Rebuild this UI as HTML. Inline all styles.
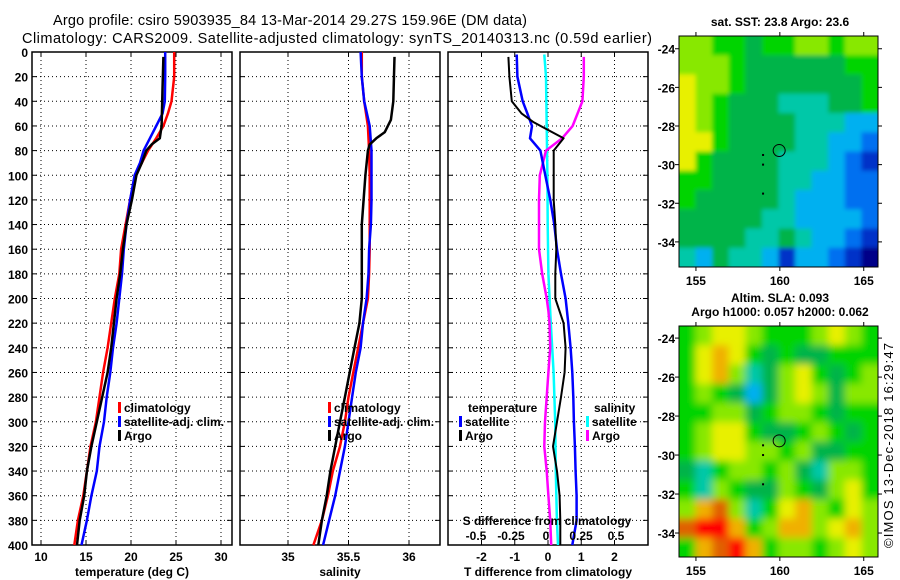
<!DOCTYPE html>
<html><head><meta charset="utf-8"><style>
body{margin:0;background:#fff}
svg{display:block;font-family:"Liberation Sans",sans-serif}
.t{font-size:12px;font-weight:bold}
</style></head><body>
<svg id="c" width="900" height="580" xmlns="http://www.w3.org/2000/svg">
<defs>
<filter id="blurS" x="-10%" y="-10%" width="120%" height="120%"><feGaussianBlur stdDeviation="2"/></filter>
<filter id="blurL" x="-10%" y="-10%" width="120%" height="120%"><feGaussianBlur stdDeviation="4"/></filter>
<clipPath id="clipS"><rect x="679" y="36" width="199" height="231"/></clipPath>
<clipPath id="clipL"><rect x="679" y="326" width="199" height="231"/></clipPath>
</defs>
<rect width="900" height="580" fill="#fff"/>
<text x="290" y="25" font-size="14.5" text-anchor="middle" textLength="474">Argo profile: csiro 5903935_84 13-Mar-2014 29.27S 159.96E (DM data)</text>
<text x="337" y="43" font-size="14.5" text-anchor="middle" textLength="630">Climatology: CARS2009. Satellite-adjusted climatology: synTS_20140313.nc (0.59d earlier)</text>
<text x="780" y="26" class="t" text-anchor="middle">sat. SST: 23.8 Argo: 23.6</text>
<text x="780" y="302" class="t" text-anchor="middle">Altim. SLA: 0.093</text>
<text x="780" y="316" class="t" text-anchor="middle">Argo h1000: 0.057 h2000: 0.062</text>
<text transform="translate(893,548) rotate(-90)" font-size="13" textLength="205">©IMOS 13-Dec-2018 16:29:47</text>
<g id="g"></g>
</svg>
<script>
// ---- data ----
const depthTicks=[0,20,40,60,80,100,120,140,160,180,200,220,240,260,280,300,320,340,360,380,400];
const tTicks=[10,15,20,25,30];
const sTicks=[35,35.5,36];
const dtTicks=[-2,-1,0,1,2];
const dsTicks=[-0.5,-0.25,0,0.25,0.5];
const dsTickLabels=["-0.5","-0.25","0","0.25","0.5"];
const tDepth=[0,20,40,50,60,70,80,90,100,120,140,160,180,200,220,240,260,280,300,320,340,360,380,400];
const tClim=[24.8,24.8,24.5,24.1,23.6,22.8,21.9,21.2,20.5,19.9,19.4,18.9,18.7,18.2,17.8,17.4,16.9,16.5,16.1,15.5,15.1,14.7,14.1,13.7];
const tSat=[23.8,23.8,23.75,23.5,22.8,22.1,21.4,21.0,20.4,19.9,19.5,19.2,19.0,18.7,18.4,18.0,17.7,17.3,17.0,16.5,16.2,15.6,15.1,14.5];
const tArgoDepth=[4,30,60,70,75,80,90,100,120,140,160,180,200,220,240,260,280,300,320,340,360,380,400];
const tArgo=[23.6,23.5,23.4,23.2,22.3,21.7,21.2,20.6,20.1,19.5,19.1,18.8,18.4,18.1,17.8,17.4,16.8,16.2,15.6,15.1,14.8,14.3,14.0];
const sDepth=[0,20,40,60,80,100,120,140,160,180,200,220,240,260,280,300,320,340,360,380,400];
const sClim=[35.61,35.61,35.63,35.66,35.67,35.675,35.675,35.675,35.675,35.67,35.66,35.62,35.58,35.54,35.50,35.47,35.43,35.37,35.33,35.28,35.21];
const sSat=[35.60,35.61,35.63,35.675,35.69,35.69,35.69,35.685,35.67,35.665,35.65,35.62,35.60,35.56,35.53,35.50,35.47,35.43,35.39,35.34,35.29];
const sArgoDepth=[4,40,55,65,70,75,80,100,120,140,160,180,200,220,240,260,280,300,320,340,360,380,400];
const sArgo=[35.88,35.87,35.85,35.80,35.73,35.675,35.66,35.64,35.625,35.61,35.61,35.61,35.61,35.59,35.55,35.51,35.47,35.43,35.39,35.35,35.32,35.28,35.25];
const dtSatDepth=[2,20,40,50,60,70,80,100,120,140,160,180,200,220,240,260,280,300,320,340,360,380,400];
const dtSat=[-0.94,-0.92,-0.76,-0.62,-0.48,-0.54,-0.23,-0.08,0.07,0.19,0.27,0.39,0.53,0.61,0.68,0.73,0.76,0.78,0.81,0.83,0.86,0.86,0.73];
const dtArgoDepth=[4,20,40,50,57,70,80,100,120,140,160,180,200,220,240,260,280,300,320,340,360,380,400];
const dtArgo=[-1.19,-1.16,-1.09,-0.79,-0.43,0.47,0.17,0.17,0.17,0.22,0.25,0.22,0.22,0.47,0.53,0.50,0.39,0.27,0.15,0.27,0.35,0.37,0.37];
const dsSatDepth=[2,20,60,100,140,180,220,260,300,340,380,400];
const dsSat=[-0.012,0,0.005,0.01,0.012,0.017,0.034,0.054,0.066,0.07,0.078,0.086];
const dsArgoDepth=[4,20,40,60,70,80,100,120,160,180,200,210,220,240,260,280,300,320,340,360,380,400];
const dsArgo=[0.27,0.27,0.26,0.19,0.115,0,-0.044,-0.05,-0.05,-0.027,0.005,0.017,0.025,0.03,0.017,0.005,-0.007,-0.012,0.005,0.017,0.03,0.037];
const lonTicks=[155,160,165];
const latTicks=[-24,-26,-28,-30,-32,-34];
const sstGrid=[
[7,7,6,6,5,6,6,7,7,6,7,7],
[7,7,7,6,5,5,5,5,5,5,6,6],
[8,7,7,6,5,5,5,5,5,5,5,6],
[8,7,6,5,5,5,4,4,4,5,5,6],
[8,7,6,5,5,5,5,4,4,4,3,3],
[8,8,6,5,5,5,5,4,4,3,3,2],
[8,6,5,5,5,5,4,4,4,3,2,1],
[6,6,5,5,5,5,4,4,3,3,2,2],
[6,5,5,5,5,5,4,3,3,3,2,2],
[5,5,5,5,5,4,4,3,3,3,3,2],
[5,5,5,5,4,4,5,4,3,3,2,1],
[4,3,5,4,4,3,1,3,3,2,1,0]];
const slaGrid=[
[6,7,8,8,7,6,6,6,7,8,7,6],
[6,8,9,8,6,5,6,5,5,6,6,6],
[6,8,9,7,4,5,7,8,6,5,6,7],
[6,7,6,5,3,5,7,8,7,5,7,7],
[6,6,7,7,5,6,7,7,6,5,6,6],
[6,7,8,8,6,5,5,6,7,6,5,6],
[6,7,8,8,7,7,6,7,5,5,6,6],
[5,4,6,7,7,6,7,5,4,7,7,6],
[6,4,7,6,5,5,7,6,5,7,8,6],
[7,9,10,7,4,6,8,9,7,6,8,7],
[10,11,11,9,6,7,9,9,7,8,9,7],
[6,9,10,11,9,6,7,7,6,7,8,7]];
const argoLon=159.96, argoLat=-29.27;
const cmap=["#000088","#0030c8","#0070f0","#00b0f0","#00c8a8","#00b44a","#00d400","#88e800","#e8f000","#f0b000","#e06000","#ff0000"];

// ---- drawing ----
const G=document.getElementById('g');const NS='http://www.w3.org/2000/svg';
function mk(tag,attrs,parent){const e=document.createElementNS(NS,tag);for(const k in attrs)e.setAttribute(k,attrs[k]);(parent||G).appendChild(e);return e;}
const Y0=52,Y1=545;
const yD=d=>Y0+(d/400)*(Y1-Y0);
function lin(d0,d1,r0,r1){return v=>r0+(v-d0)*(r1-r0)/(d1-d0);}
function panel(name,x0,x1,xs,xt,xlabels,title,leftLabels){
  const g=mk('g',{});
  
  
  depthTicks.forEach((d,i)=>{
    if(i>0&&i<depthTicks.length-1){const l=mk('line',{x1:x0,x2:x1,y1:yD(d),y2:yD(d),stroke:'#000','stroke-dasharray':'1 3','stroke-width':1},g);
    
    }
    mk('line',{x1:x0,x2:x0+5,y1:yD(d),y2:yD(d),stroke:'#000'},g);
    mk('line',{x1:x1,x2:x1-5,y1:yD(d),y2:yD(d),stroke:'#000'},g);
    if(leftLabels){const t=mk('text',{x:x0-4,y:yD(d)+5,class:'t','text-anchor':'end'},g);t.textContent=d;
    
    }
  });
  xt.forEach((v,i)=>{
    const x=xs(v);
    const l=mk('line',{x1:x,x2:x,y1:Y0,y2:Y1,stroke:'#000','stroke-dasharray':'1 3'},g);
    
    
    mk('line',{x1:x,x2:x,y1:Y1,y2:Y1-5,stroke:'#000'},g);
    mk('line',{x1:x,x2:x,y1:Y0,y2:Y0+5,stroke:'#000'},g);
    const t=mk('text',{x:x,y:561,class:'t','text-anchor':'middle'},g);t.textContent=xlabels[i];
    
    
  });
  const r=mk('rect',{x:x0,y:Y0,width:x1-x0,height:Y1-Y0,fill:'none',stroke:'#000','stroke-width':1.5},g);
  
  
  const t=mk('text',{x:(x0+x1)/2,y:576,class:'t','text-anchor':'middle'},g);t.textContent=title;
  
  
  return g;
}
function series(g,name,xs,depths,vals,color,w){
  const pts=depths.map((d,i)=>xs(vals[i]).toFixed(1)+','+yD(d).toFixed(1)).join(' ');
  const p=mk('polyline',{points:pts,fill:'none',stroke:color,'stroke-width':w,'stroke-linejoin':'round'},g);
  
  
}
function legend(g,x,y,color,label,name){
  mk('rect',{x:x,y:y-10,width:3,height:11,fill:color},g);
  const t=mk('text',{x:x+6,y:y,class:'t'},g);t.textContent=label;
  
  
}
// panel 1
const xT=lin(10,30,41,221);
const p1=panel('temperature-panel',32,232,xT,tTicks,tTicks.map(String),'temperature (deg C)',true);
series(p1,'temp-climatology-line',xT,tDepth,tClim,'#f00',2.5);
series(p1,'temp-satellite-line',xT,tDepth,tSat,'#00f',2.5);
series(p1,'temp-argo-line',xT,tArgoDepth,tArgo,'#000',2.5);
legend(p1,118,412,'#f00','climatology','legend-climatology');
legend(p1,118,426,'#00f','satellite-adj. clim.','legend-satellite');
legend(p1,118,440,'#000','Argo','legend-argo');
// panel 2
const xS=lin(35,36,288,409);
const p2=panel('salinity-panel',240,440,xS,sTicks,['35','35.5','36'],'salinity',false);
series(p2,'sal-climatology-line',xS,sDepth,sClim,'#f00',2.5);
series(p2,'sal-satellite-line',xS,sDepth,sSat,'#00f',2.5);
series(p2,'sal-argo-line',xS,sArgoDepth,sArgo,'#000',2.5);
legend(p2,328,412,'#f00','climatology','legend-climatology-2');
legend(p2,328,426,'#00f','satellite-adj. clim.','legend-satellite-2');
legend(p2,328,440,'#000','Argo','legend-argo-2');
// panel 3
const xDT=lin(-2,2,481.5,614.5);
const xDS=lin(-0.5,0.5,476,616);
const p3=panel('difference-panel',448,648,xDT,dtTicks,dtTicks.map(String),'T difference from climatology',false);
series(p3,'ds-satellite-line',xDS,dsSatDepth,dsSat,'#00ffff',2.5);
series(p3,'ds-argo-line',xDS,dsArgoDepth,dsArgo,'#ff00ff',2.5);
series(p3,'dt-satellite-line',xDT,dtSatDepth,dtSat,'#00f',2.5);
series(p3,'dt-argo-line',xDT,dtArgoDepth,dtArgo,'#000',2);
{const t=mk('text',{x:468,y:412,class:'t'},p3);t.textContent='temperature';


const t2=mk('text',{x:594,y:412,class:'t'},p3);t2.textContent='salinity';

}
legend(p3,459,426,'#00f','satellite','legend-dt-satellite');
legend(p3,459,440,'#000','Argo','legend-dt-argo');
legend(p3,586,426,'#00ffff','satellite','legend-ds-satellite');
legend(p3,586,440,'#ff00ff','Argo','legend-ds-argo');
{const t=mk('text',{x:547,y:525,class:'t','text-anchor':'middle'},p3);t.textContent='S difference from climatology';

}
dsTicks.forEach((v,i)=>{const t=mk('text',{x:xDS(v),y:540,class:'t','text-anchor':'middle'},p3);t.textContent=dsTickLabels[i];

});
// maps
function map(name,grid,mx0,my0,mx1,my1,lat0,lat1,filt,clip){
  const g=mk('g',{});
  
  
  const lonS=lin(153.99,165.85,mx0,mx1), latS=lin(lat0,lat1,my0,my1);
  const nr=grid.length,nc=grid[0].length,cw=(mx1-mx0)/nc,ch=(my1-my0)/nr;
  const cg=mk('g',{'clip-path':'url(#'+clip+')'},g);
  const bg=mk('g',{filter:'url(#'+filt+')'},cg);
  const E=16;
  grid.forEach((row,r)=>row.forEach((v,c)=>{
    let x=mx0+c*cw,y=my0+r*ch,w=cw+0.6,h=ch+0.6;
    if(c===0){x-=E;w+=E;} if(c===nc-1){w+=E;}
    if(r===0){y-=E;h+=E;} if(r===nr-1){h+=E;}
    const cell=mk('rect',{x:x,y:y,width:w,height:h,fill:cmap[v]},bg);
    
    
  }));
  mk('rect',{x:mx0,y:my0,width:mx1-mx0,height:my1-my0,fill:'none',stroke:'#000'},g);
  lonTicks.forEach(v=>{const x=lonS(v);
    mk('line',{x1:x,x2:x,y1:my0,y2:my0-4,stroke:'#000'},g);
    mk('line',{x1:x,x2:x,y1:my1,y2:my1+4,stroke:'#000'},g);
    const t=mk('text',{x:x,y:my1+18,class:'t','text-anchor':'middle','font-size':'13'},g);t.textContent=v;
    
    });
  latTicks.forEach(v=>{const y=latS(v);
    mk('line',{x1:mx0,x2:mx0-4,y1:y,y2:y,stroke:'#000'},g);
    mk('line',{x1:mx1,x2:mx1+4,y1:y,y2:y,stroke:'#000'},g);
    const t=mk('text',{x:mx0-4,y:y+5,class:'t','text-anchor':'end'},g);t.textContent=v;
    
    });
  const c=mk('circle',{cx:lonS(argoLon),cy:latS(argoLat),r:6,fill:'none',stroke:'#000'},g);
  
  
  [[-29.5],[-30],[-31.5]].forEach(p=>mk('rect',{x:lonS(159)-1,y:latS(p[0])-1,width:2,height:2,fill:'#000'},g));
}
map('sst-map',sstGrid,679,36,878,267,-23.34,-35.3,'blurS','clipS');
map('sla-map',slaGrid,679,326,878,557,-23.38,-35.23,'blurL','clipL');
</script>
</body></html>
